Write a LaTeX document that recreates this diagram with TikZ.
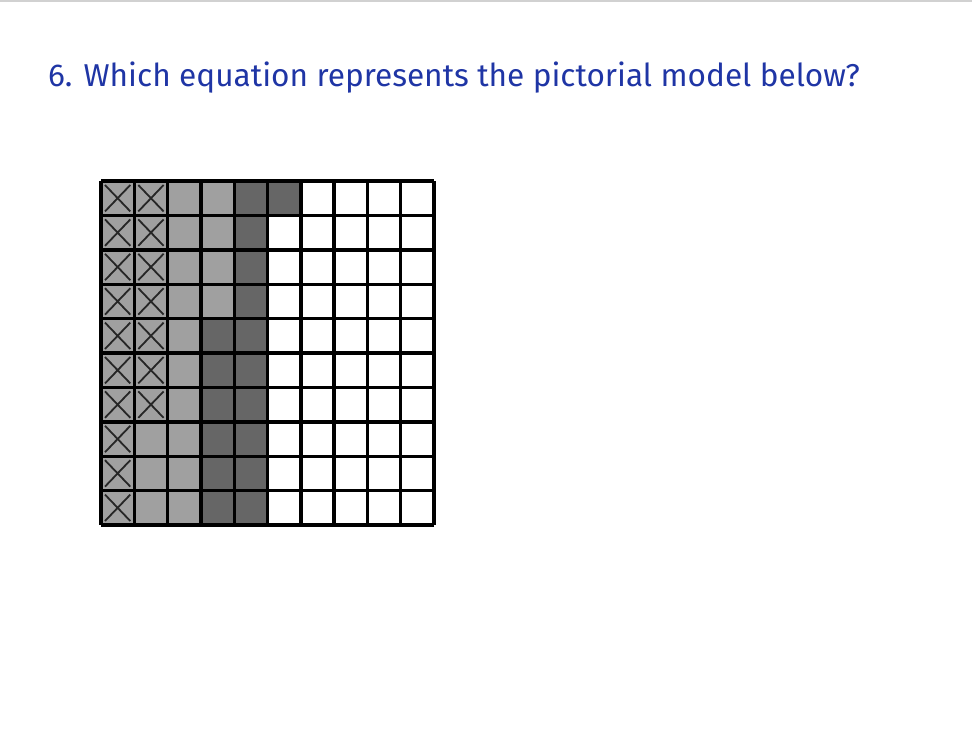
\documentclass[tikz,border=0pt]{standalone}
\usepackage{fontspec}
\setmainfont{Fira Sans}
\usepackage{xcolor}
\definecolor{colorTitle}{HTML}{1F35A5}
\definecolor{colorLight}{HTML}{A0A0A0}
\definecolor{colorDark}{HTML}{666666}
\usetikzlibrary{positioning}
\tikzset{
  cell/.style={draw=black, line width=3.4pt},
  cross/.style={draw=black!85, line width=1.8pt},
}

\begin{document}
\begin{tikzpicture}[x=1pt, y=-1pt]
\useasboundingbox (0,0) rectangle (972,729);
\fill[black!18] (0,0) rectangle (972,2);
\node[anchor=base west, inner sep=0pt, text=colorTitle, font=\fontsize{31.6}{34}\selectfont] (title) at (48,86) {6. Which equation represents the pictorial model below?};
% shading of the hundred grid
\def\cw{33.3}
\def\ch{34.4}
\foreach \c in {0,...,9}{
  \foreach \r in {0,...,9}{
    \pgfmathsetmacro{\shade}{(\c<3 || (\c==3 && \r<4)) ? 1 : ((\c==3 || \c==4 || (\c==5 && \r==0)) ? 2 : 0)}
    \ifnum\shade=1 \def\fc{colorLight}\else\ifnum\shade=2 \def\fc{colorDark}\else\def\fc{white}\fi\fi
    \fill[\fc] (101+\c*\cw,181+\r*\ch) rectangle ++(\cw,\ch);
  }
}
% crossed squares
\foreach \c/\n in {0/9,1/6}{
  \foreach \r in {0,...,\n}{
    \draw[cross] (101+\c*\cw+4,181+\r*\ch+4) -- ++(\cw-8,\ch-8)
      (101+\c*\cw+\cw-4,181+\r*\ch+4) -- ++(-\cw+8,\ch-8);
  }
}
% grid lines
\foreach \c in {0,...,10} \draw[cell] (101+\c*\cw,181) -- ++(0,10*\ch);
\foreach \r in {0,...,10} \draw[cell] (101,181+\r*\ch) -- ++(10*\cw,0);
\end{tikzpicture}
\end{document}
